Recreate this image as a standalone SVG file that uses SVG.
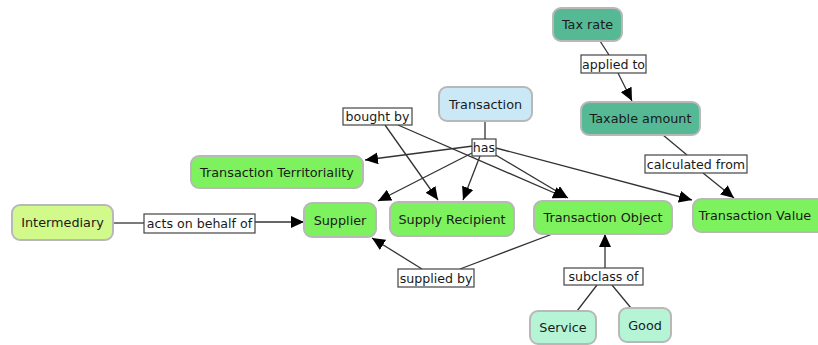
<svg xmlns="http://www.w3.org/2000/svg" width="818" height="345" viewBox="0 0 818 345">
<defs>
<marker id="ah" markerUnits="userSpaceOnUse" markerWidth="14" markerHeight="12" refX="13" refY="6" orient="auto">
<path d="M0,0 L13,6 L0,12 Z" fill="#000"/>
</marker>
<style>
.n rect{stroke:#b8b8b8;stroke-width:2}
.n text{font-family:"DejaVu Sans",Verdana,sans-serif;font-size:12.8px;fill:#1a1a1a;text-anchor:middle;dominant-baseline:central}
.g rect{fill:#7ef25e}
.t rect{fill:#55b995}
.l rect{fill:#fff;stroke:#444;stroke-width:1.2}
.l text{font-family:"DejaVu Sans",Verdana,sans-serif;font-size:12.6px;fill:#1a1a1a;text-anchor:middle;dominant-baseline:central}
.e line{stroke:#333;stroke-width:1.3}
.e .a{marker-end:url(#ah)}
</style>
</defs>
<rect width="818" height="345" fill="#fff"/>
<g class="e">
<line x1="600" y1="41" x2="609" y2="55"/>
<line class="a" x1="618" y1="73" x2="632" y2="101"/>
<line x1="663" y1="135" x2="687" y2="155"/>
<line class="a" x1="703" y1="173" x2="734" y2="198"/>
<line x1="485" y1="121" x2="485" y2="139"/>
<line class="a" x1="473" y1="146" x2="365" y2="160"/>
<line class="a" x1="474" y1="152" x2="378" y2="201"/>
<line class="a" x1="480" y1="156" x2="463" y2="200"/>
<line class="a" x1="494" y1="154" x2="568" y2="198"/>
<line class="a" x1="496" y1="148" x2="692" y2="200"/>
<line class="a" x1="385" y1="125" x2="438" y2="200"/>
<line class="a" x1="398" y1="125" x2="566" y2="198"/>
<line x1="113" y1="223" x2="144" y2="223"/>
<line class="a" x1="255" y1="222" x2="304" y2="222"/>
<line x1="555" y1="233" x2="460" y2="269"/>
<line class="a" x1="422" y1="269" x2="372" y2="238"/>
<line x1="577" y1="311" x2="597" y2="285"/>
<line x1="631" y1="308" x2="612" y2="285"/>
<line class="a" x1="605" y1="268" x2="605" y2="234"/>
</g>
<g id="tax-rate" class="n t"><rect x="553" y="8" width="69" height="33" rx="8"/><text x="587.5" y="24.5">Tax rate</text></g>
<g id="taxable-amount" class="n t"><rect x="581" y="102" width="119" height="33" rx="8"/><text x="640.5" y="118.5">Taxable amount</text></g>
<g id="transaction" class="n"><rect x="439" y="87" width="93" height="34" rx="8" fill="#cbe8f6"/><text x="485.5" y="104">Transaction</text></g>
<g id="transaction-territoriality" class="n g"><rect x="191" y="156" width="172" height="32" rx="8"/><text x="277" y="172">Transaction Territoriality</text></g>
<g id="supplier" class="n g"><rect x="304" y="203" width="72" height="34" rx="8"/><text x="340" y="220">Supplier</text></g>
<g id="supply-recipient" class="n g"><rect x="390" y="202" width="124" height="34" rx="8"/><text x="452" y="219">Supply Recipient</text></g>
<g id="transaction-object" class="n g"><rect x="534" y="201" width="138" height="33" rx="8"/><text x="603" y="217.5">Transaction Object</text></g>
<g id="transaction-value" class="n g"><rect x="693" y="199" width="132" height="33" rx="8"/><text x="755" y="215.5">Transaction Value</text></g>
<g id="intermediary" class="n"><rect x="12" y="205" width="101" height="35" rx="8" fill="#d2fa8a"/><text x="62.5" y="222.5">Intermediary</text></g>
<g id="service" class="n"><rect x="530" y="311" width="66" height="33" rx="8" fill="#b5f5d6"/><text x="563" y="327.5">Service</text></g>
<g id="good" class="n"><rect x="619" y="308" width="52" height="34" rx="8" fill="#b5f5d6"/><text x="645" y="325">Good</text></g>
<g id="lbl-applied-to" class="l"><rect x="581" y="55" width="65" height="18"/><text x="613.5" y="64">applied to</text></g>
<g id="lbl-calculated-from" class="l"><rect x="645" y="155" width="102" height="18"/><text x="696" y="164">calculated from</text></g>
<g id="lbl-bought-by" class="l"><rect x="343" y="108" width="69" height="17"/><text x="377.5" y="116.5">bought by</text></g>
<g id="lbl-has" class="l"><rect x="472" y="139" width="24" height="17"/><text x="484" y="147.5">has</text></g>
<g id="lbl-acts" class="l"><rect x="144" y="214" width="111" height="19"/><text x="199.5" y="223.5">acts on behalf of</text></g>
<g id="lbl-supplied-by" class="l"><rect x="398" y="269" width="76" height="18"/><text x="436" y="278">supplied by</text></g>
<g id="lbl-subclass-of" class="l"><rect x="564" y="268" width="79" height="17"/><text x="603.5" y="276.5">subclass of</text></g>
</svg>
